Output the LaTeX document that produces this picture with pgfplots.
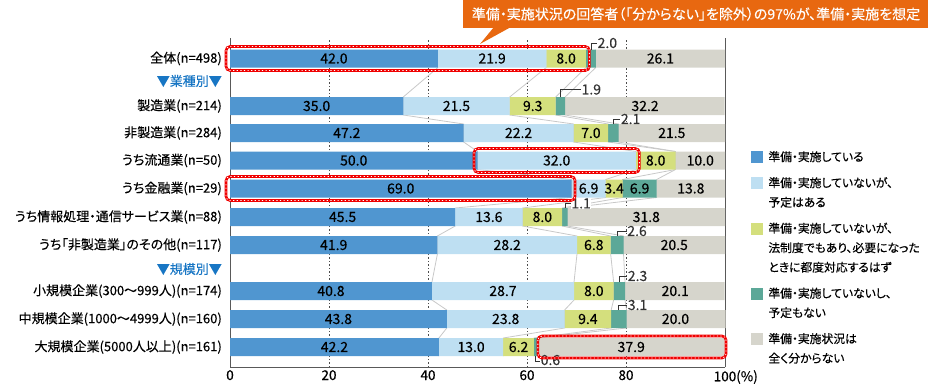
\documentclass[border=0pt]{standalone}
\usepackage{pgfplots}
\pgfplotsset{compat=1.18}
\usepackage{pgfplotstable}
\usepackage{fontspec}
\setmainfont{Noto Sans CJK JP}[RawFeature=+palt, FakeBold=0.35]
\definecolor{cA}{RGB}{80,150,208}
\definecolor{cB}{RGB}{190,223,242}
\definecolor{cC}{RGB}{212,223,125}
\definecolor{cD}{RGB}{92,168,152}
\definecolor{cE}{RGB}{214,213,204}
\definecolor{orangeC}{RGB}{232,104,16}
\definecolor{hdr}{RGB}{24,118,196}
\definecolor{conn}{RGB}{200,200,200}
\definecolor{redC}{RGB}{240,0,0}
\newcommand\numfont{\fontsize{14}{16}\selectfont}
\newcommand\tickfont{\fontsize{13.5}{15}\selectfont}
\newcommand\catfont{\fontsize{13}{16}\selectfont}

\pgfplotstableread{
y a b c d e
-58.5 42.0 21.9 8.0 2.0 26.1
-106 35.0 21.5 9.3 1.9 32.2
-133 47.2 22.2 7.0 2.1 21.5
-160.5 50.0 32.0 8.0 0.0 10.0
-188.5 69.0 6.9 3.4 6.9 13.8
-217 45.5 13.6 8.0 1.1 31.8
-245 41.9 28.2 6.8 2.6 20.5
-291 40.8 28.7 8.0 2.3 20.1
-319 43.8 23.8 9.4 3.1 20.0
-347 42.2 13.0 6.2 0.6 37.9
}\bars

\pgfplotstableread{
x y lab
21.0 -58.5 42.0
52.95 -58.5 21.9
67.9 -58.5 8.0
86.95 -58.5 26.1
17.5 -106 35.0
45.75 -106 21.5
61.15 -106 9.3
83.85 -106 32.2
23.6 -133 47.2
58.3 -133 22.2
72.9 -133 7.0
89.25 -133 21.5
25.0 -160.5 50.0
66.0 -160.5 32.0
86.0 -160.5 8.0
95.0 -160.5 10.0
34.5 -188.5 69.0
72.45 -188.5 6.9
77.6 -188.5 3.4
82.75 -188.5 6.9
93.1 -188.5 13.8
22.75 -217 45.5
52.3 -217 13.6
63.1 -217 8.0
84.1 -217 31.8
20.95 -245 41.9
56.0 -245 28.2
73.5 -245 6.8
89.75 -245 20.5
20.4 -291 40.8
55.15 -291 28.7
73.5 -291 8.0
89.95 -291 20.1
21.9 -319 43.8
55.7 -319 23.8
72.3 -319 9.4
90.0 -319 20.0
21.1 -347 42.2
48.7 -347 13.0
58.3 -347 6.2
81.05 -347 37.9
}\labs

\pgfplotsset{
  base/.style={at={(230pt,-367pt)}, anchor=south west, scale only axis,
    width=495pt, height=329pt, xmin=0, xmax=100, ymin=-367, ymax=-38,
    clip=false},
  leader/.style={forget plot, black!80, line width=0.7pt},
}
\newcommand\rbox[4]{%
  \draw[redC, line width=2.6pt, rounded corners=4pt] (axis cs:#1,#2) rectangle (axis cs:#3,#4);
  \draw[white, line width=0.8pt, dash pattern=on 1.2pt off 2.4pt, rounded corners=4pt] (axis cs:#1,#2) rectangle (axis cs:#3,#4);}

\begin{document}
\begin{tikzpicture}
\path[use as bounding box] (0pt,0pt) rectangle (928pt,-383pt);

% background axis: grid, axis lines, ticks, connectors
\begin{axis}[base,
  axis x line*=bottom, axis y line*=box,
  axis line style={black!65, line width=0.8pt},
  major tick length=0pt,
  xtick={0,20,40,60,80,100},
  xticklabels={0,20,40,60,80,100\rlap{(\%)}},
  xmajorgrids,
  major grid style={black!70, line width=0.6pt, dash pattern=on 1.5pt off 2pt},
  ytick={-58.5,-81,-106,-133,-160.5,-188.5,-217,-245,-269,-291,-319,-347},
  yticklabels={全体(n=498),{\textcolor{hdr}{▼業種別▼}},製造業(n=214),非製造業(n=284),うち流通業(n=50),うち金融業(n=29),うち情報処理・通信サービス業(n=88),うち「非製造業」のその他(n=117),{\textcolor{hdr}{▼規模別▼}},小規模企業(300～999人)(n=174),中規模企業(1000～4999人)(n=160),大規模企業(5000人以上)(n=161)},
  xticklabel style={font=\tickfont, anchor=north, inner sep=0pt, yshift=-3pt},
  yticklabel style={font=\catfont, anchor=east, inner sep=0pt, xshift=-8pt},
  /pgf/number format/assume math mode=true,
]
\addplot[conn, line width=0.8pt] coordinates {(42.0,-49.5)(42.0,-67.5)(35.0,-97)(35.0,-115)(47.2,-124)(47.2,-142)(50.0,-151.5)(50.0,-169.5)(69.0,-179.5)(69.0,-197.5)(45.5,-208)(45.5,-226)(41.9,-236)(41.9,-254)(40.8,-282)(40.8,-300)(43.8,-310)(43.8,-328)(42.2,-338)(42.2,-356)};
\addplot[conn, line width=0.8pt] coordinates {(63.9,-49.5)(63.9,-67.5)(56.5,-97)(56.5,-115)(69.4,-124)(69.4,-142)(82.0,-151.5)(82.0,-169.5)(75.9,-179.5)(75.9,-197.5)(59.1,-208)(59.1,-226)(70.1,-236)(70.1,-254)(69.5,-282)(69.5,-300)(67.6,-310)(67.6,-328)(55.2,-338)(55.2,-356)};
\addplot[conn, line width=0.8pt] coordinates {(71.9,-49.5)(71.9,-67.5)(65.8,-97)(65.8,-115)(76.4,-124)(76.4,-142)(90.0,-151.5)(90.0,-169.5)(79.3,-179.5)(79.3,-197.5)(67.1,-208)(67.1,-226)(76.9,-236)(76.9,-254)(77.5,-282)(77.5,-300)(77.0,-310)(77.0,-328)(61.4,-338)(61.4,-356)};
\addplot[conn, line width=0.8pt] coordinates {(73.9,-49.5)(73.9,-67.5)(67.7,-97)(67.7,-115)(78.5,-124)(78.5,-142)(90.0,-151.5)(90.0,-169.5)(86.2,-179.5)(86.2,-197.5)(68.2,-208)(68.2,-226)(79.5,-236)(79.5,-254)(79.8,-282)(79.8,-300)(80.1,-310)(80.1,-328)(62.0,-338)(62.0,-356)};
\end{axis}

% bars
\begin{axis}[base, hide axis, xbar stacked, bar width=18pt]
\addplot[fill=cA, draw=none] table[x=a, y=y]{\bars};
\addplot[fill=cB, draw=none] table[x=b, y=y]{\bars};
\addplot[fill=cC, draw=none] table[x=c, y=y]{\bars};
\addplot[fill=cD, draw=none] table[x=d, y=y]{\bars};
\addplot[fill=cE, draw=none] table[x=e, y=y]{\bars};
\end{axis}

% labels, leaders, highlights, legend
\begin{axis}[base, hide axis,
  legend cell align=left,
  legend style={at={(axis description cs:1.0525,0.6558)}, anchor=north west,
    draw=none, fill=none, inner sep=0pt, outer sep=0pt,
    row sep=14.5pt, column sep=6pt,
    font=\fontsize{11.8}{19.5}\selectfont,
    nodes={inner sep=0pt, align=left}, cells={anchor=west}},
]
\addplot[forget plot, only marks, mark=*, mark size=0pt, mark options={draw=none, fill=none},
  nodes near coords, point meta=explicit symbolic,
  every node near coord/.append style={anchor=center, font=\numfont, inner sep=0pt, text=black}]
  table[x=x, y=y, meta=lab]{\labs};

\addplot[leader] coordinates {(72.9,-49.5)(72.9,-43)(74.1,-43)} node[pos=1, anchor=west, inner sep=0.5pt, font=\numfont]{2.0};
\addplot[leader] coordinates {(66.75,-97)(66.75,-89.5)(70.85,-89.5)} node[pos=1, anchor=west, inner sep=0.5pt, font=\numfont]{1.9};
\addplot[leader] coordinates {(77.45,-124)(77.45,-119)(78.8,-119)} node[pos=1, anchor=west, inner sep=0.5pt, font=\numfont]{2.1};
\addplot[leader] coordinates {(67.65,-208)(67.65,-203.5)(68.8,-203.5)} node[pos=1, anchor=west, inner sep=0.5pt, font=\numfont, fill=white]{1.1};
\addplot[leader] coordinates {(78.2,-236)(78.2,-231)(80.1,-231)} node[pos=1, anchor=west, inner sep=0.5pt, font=\numfont]{2.6};
\addplot[leader] coordinates {(78.65,-282)(78.65,-276)(80.2,-276)} node[pos=1, anchor=west, inner sep=0.5pt, font=\numfont]{2.3};
\addplot[leader] coordinates {(78.55,-310)(78.55,-305)(80.2,-305)} node[pos=1, anchor=west, inner sep=0.5pt, font=\numfont]{3.1};
\addplot[leader] coordinates {(61.7,-356)(61.7,-361)(62.6,-361)} node[pos=1, anchor=west, inner sep=0.5pt, font=\numfont, yshift=1pt]{0.6};

\rbox{-0.8}{-46.5}{72.6}{-70.5}
\rbox{49.3}{-148.5}{82.7}{-172.5}
\rbox{-0.8}{-176.5}{69.7}{-200.5}
\rbox{62.2}{-336}{100.2}{-358}

\addlegendimage{legend image code/.code={\fill[cA] (0pt,-5.5pt) rectangle (11pt,5.5pt);}}
\addlegendentry{準備・実施している}
\addlegendimage{legend image code/.code={\fill[cB] (0pt,4.25pt) rectangle (11pt,15.25pt);}}
\addlegendentry{準備・実施していないが、\\予定はある}
\addlegendimage{legend image code/.code={\fill[cC] (0pt,14pt) rectangle (11pt,25pt);}}
\addlegendentry{準備・実施していないが、\\法制度でもあり、必要になった\\ときに都度対応するはず}
\addlegendimage{legend image code/.code={\fill[cD] (0pt,4.25pt) rectangle (11pt,15.25pt);}}
\addlegendentry{準備・実施していないし、\\予定もない}
\addlegendimage{legend image code/.code={\fill[cE] (0pt,4.25pt) rectangle (11pt,15.25pt);}}
\addlegendentry{準備・実施状況は\\全く分からない}
\end{axis}

% banner
\fill[orangeC] (463pt,0pt) rectangle (928pt,-28pt);
\fill[orangeC] (494pt,-27pt) -- (511pt,-27pt) -- (480pt,-44pt) -- cycle;
\node[text=white, font=\fontsize{14}{16}\selectfont, inner sep=0pt] at (696pt,-14pt) {準備・実施状況の回答者（「分からない」を除外）の97\%が、準備・実施を想定};
\end{tikzpicture}
\end{document}
